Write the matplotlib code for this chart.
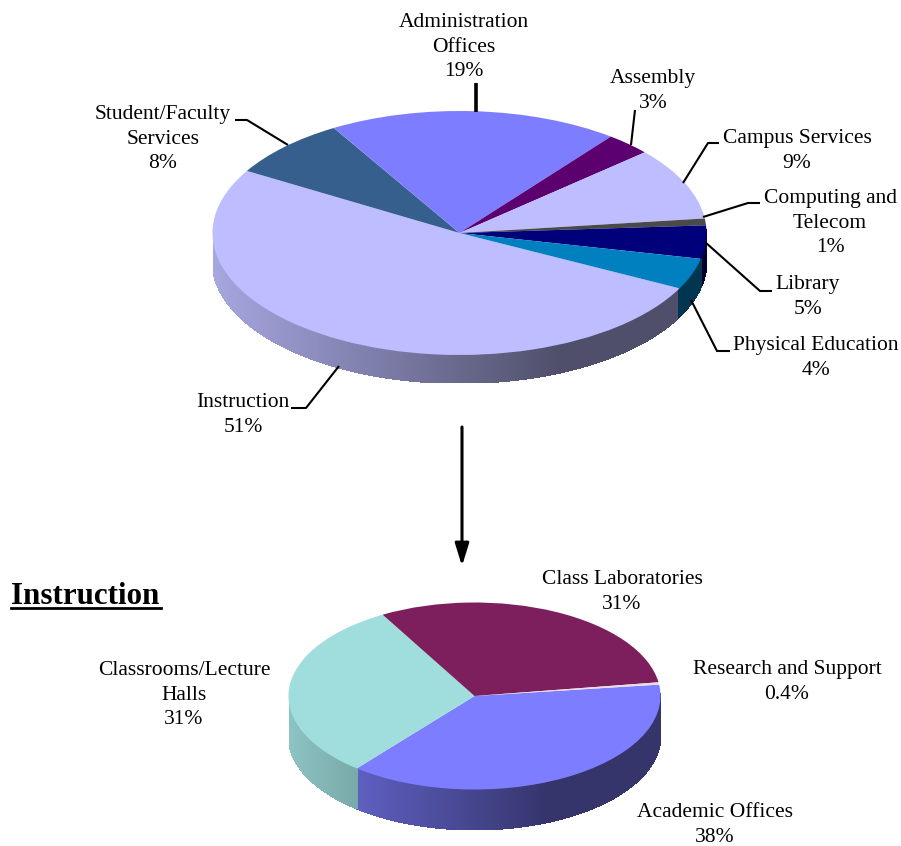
import numpy as np
import matplotlib
matplotlib.use("Agg")
import matplotlib.pyplot as plt
from matplotlib.colors import to_rgb

plt.rcParams['font.family'] = ['Liberation Serif', 'DejaVu Serif']

W, H = 901, 846

# top pie
campus_names = ["Instruction", "Student/Faculty Services", "Administration Offices", "Assembly",
                "Campus Services", "Computing and Telecom", "Library", "Physical Education"]
campus_values = [51, 8, 19, 3, 9.6, 0.9, 4.4, 4.1]
campus_colors = ["#BDBDFF", "#365F8E", "#7D7DFF", "#5C0070", "#BDBDFF", "#4A4A4A", "#00007A", "#0080BF"]

# bottom pie
instr_names = ["Academic Offices", "Classrooms/Lecture Halls", "Class Laboratories", "Research and Support"]
instr_values = [38, 31, 31, 0.4]
instr_colors = ["#7D7DFF", "#A0DEDE", "#7D1F5C", "#E8DCE2"]

# label text, centre x, centre y (pixels)
labels = [
    ("Administration\nOffices\n19%", 464, 47),
    ("Assembly\n3%", 653, 91),
    ("Campus Services\n9%", 797, 151),
    ("Computing and\nTelecom\n1%", 830, 223),
    ("Library\n5%", 808, 297),
    ("Physical Education\n4%", 816, 358),
    ("Instruction\n51%", 243, 415),
    ("Student/Faculty\nServices\n8%", 163, 139),
    ("Class Laboratories\n31%", 622, 592),
    ("Research and Support\n0.4%", 787, 682),
    ("Classrooms/Lecture\nHalls\n31%", 184, 695),
    ("Academic Offices\n38%", 715, 825),
]

leaders = [
    ([635, 631], [110, 145]),
    ([719, 708, 683], [143, 143, 183]),
    ([760, 748, 703], [203, 203, 217]),
    ([772, 760, 705], [291, 291, 242]),
    ([730, 717, 691], [351, 351, 300]),
    ([235, 247, 288], [120, 120, 145]),
    ([291, 306, 339], [408, 408, 366]),
]


def shade(x):
    # side wall gets darker going right, flat past x=0.4
    return np.where(x > 0.4, 0.42, 0.42 + (0.4 - x) / 1.4 * 0.46)


def pie3d(cx, cy, rx, ry, depth, values, colors, start):
    left = cx - rx
    bottom = H - (cy + ry + depth)
    ax = fig.add_axes([left / W, bottom / H, 2 * rx / W, (2 * ry + depth) / H])
    ax.pie(values, colors=colors, startangle=start, counterclock=False, radius=1,
           wedgeprops={"linewidth": 0.3, "edgecolor": "none"})
    d = depth / ry
    ax.set_aspect("auto")
    ax.set_xlim(-1, 1)
    ax.set_ylim(-1 - d, 1)

    # side wall, small quads under the top face
    fracs = np.array(values) / sum(values)
    a = start
    for f, c in zip(fracs, colors):
        b = a - f * 360
        th = np.radians(np.arange(a, b - 0.5, -0.5))
        for t0, t1 in zip(th[:-1], th[1:]):
            if np.sin(t0) > 0.02 and np.sin(t1) > 0.02:
                continue
            xs = np.cos([t0, t1, t1, t0])
            ys = np.sin([t0, t1, t1, t0]) - np.array([0, 0, d, d])
            col = np.array(to_rgb(c)) * float(shade(np.cos((t0 + t1) / 2)))
            ax.fill(xs, ys, color=col, lw=0.8, zorder=0, antialiased=False)
        a = b
    return ax


fig = plt.figure(figsize=(W / 100, H / 100), dpi=100, facecolor="white")

pie3d(459.5, 233, 247, 122, 28, campus_values, campus_colors, -27)
pie3d(474.5, 696, 186, 93.5, 40, instr_values, instr_colors, 7)

# overlay in pixel coordinates for labels and leader lines
ov = fig.add_axes([0, 0, 1, 1], facecolor="none")
ov.set_xlim(0, W)
ov.set_ylim(H, 0)
ov.axis("off")

# one text per line so the last label keeps inside the picture
for txt, x, y in labels:
    lines = txt.split("\n")
    for i, line in enumerate(lines):
        ov.text(x, y + (i - (len(lines) - 1) / 2) * 24.5, line, ha="center", va="center",
                fontsize=15.5, color="black")

for xs, ys in leaders:
    ov.plot(xs, ys, color="black", lw=1.5, solid_capstyle="butt")
ov.plot([476, 476], [83, 112], color="black", lw=2.6, solid_capstyle="butt")

# arrow between the pies
ov.annotate("", xy=(462, 566), xytext=(462, 427),
            arrowprops=dict(arrowstyle="-|>,head_width=0.42,head_length=1.35", color="black", lw=2.2,
                            shrinkA=0, shrinkB=0, mutation_scale=10))

ov.text(11, 596, "Instruction", ha="left", va="center", fontsize=22.3, fontweight="bold", color="black")
ov.plot([11, 161], [608, 608], color="black", lw=2)

fig.savefig("out.png", dpi=100)
